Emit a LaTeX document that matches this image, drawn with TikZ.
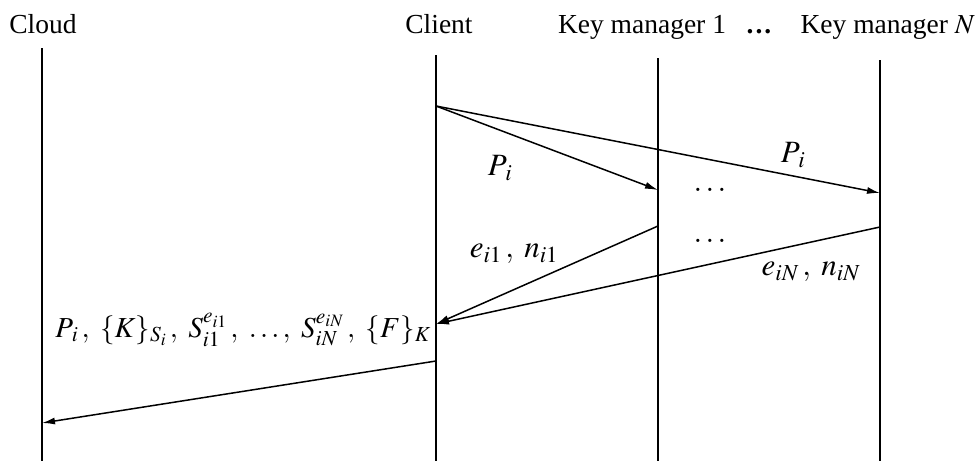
\documentclass[tikz,border=0pt]{standalone}
\usepackage{mathptmx}
\usepackage{fontspec}
\setmainfont{Liberation Serif}
\usetikzlibrary{arrows.meta}
\begin{document}
\begin{tikzpicture}[x=1pt,y=-1pt,
  life/.style={line width=1.3pt},
  msg/.style={line width=1.5pt,-{Latex[length=13pt,width=7pt]}},
  actor/.style={font=\fontsize{27.5}{32}\selectfont, inner sep=0pt, anchor=base},
  lbl/.style={font=\fontsize{31}{36}\selectfont, inner sep=0pt},
  biglbl/.style={font=\fontsize{29}{34}\selectfont, inner sep=0pt}]
\useasboundingbox (0,0) rectangle (976,461);
% actor labels
\node[actor] (cloudL) at (43,33) {Cloud};
\node[actor] (clientL) at (439,33) {Client};
\node[actor] (km1L) at (642,33) {Key manager 1};
\node[actor] (dotsL) at (759,33) {\textbf{.\kern2pt.\kern2pt.}};
\node[actor, anchor=base east] (kmNL) at (975,33) {Key manager~$N$};
% lifelines
\coordinate (cloudT) at (42,48);  \coordinate (cloudB) at (42,461);
\coordinate (clientT) at (436,55); \coordinate (clientB) at (436,461);
\coordinate (km1T) at (658,58);   \coordinate (km1B) at (658,461);
\coordinate (kmNT) at (880,60);   \coordinate (kmNB) at (880,461);
\draw[life] (cloudT) -- (cloudB);
\draw[life] (clientT) -- (clientB);
\draw[life] (km1T) -- (km1B);
\draw[life] (kmNT) -- (kmNB);
% message end points
\coordinate (c1) at (436,106);
\coordinate (k1a) at (658,190);
\coordinate (kNa) at (880,193);
\coordinate (k1b) at (658,226);
\coordinate (kNb) at (880,227);
\coordinate (c2) at (436,324);
\coordinate (c3) at (436,361);
\coordinate (cl) at (42,423);
\draw[msg] (c1) -- (k1a);
\draw[msg] (c1) -- (kNa);
\draw[msg] (k1b) -- (c2);
\draw[msg] (kNb) -- (c2);
\draw[msg] (c3) -- (cl);
% labels
\node[lbl] (p1) at (500,168) {$P_{\,i}$};
\node[lbl] (p2) at (793,155) {$P_{\,i}$};
\node[lbl] (d1) at (710,190) {$\ldots$};
\node[lbl] (d2) at (710,241) {$\ldots$};
\node[lbl] (en1) at (514,254) {$e_{i1}\,,\; n_{i1}$};
\node[lbl] (enN) at (811,272) {$e_{iN}\,,\; n_{iN}$};
\node[biglbl, anchor=east] (big) at (431,330) {$P_{\,i}\,,\ \{K\}_{S_i}\,,\ S_{i1}^{e_{i1}}\,,\ \ldots,\ S_{iN}^{e_{iN}}\,,\ \{F\}_K$};
\end{tikzpicture}
\end{document}
